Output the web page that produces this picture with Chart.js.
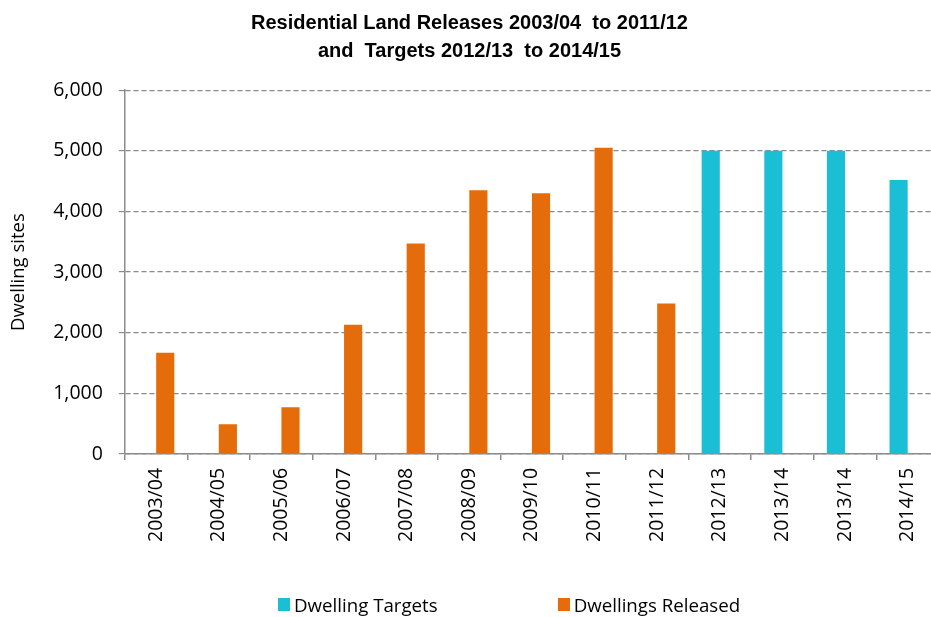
<!DOCTYPE html>
<html>
<head>
<meta charset="utf-8">
<script src="https://cdn.jsdelivr.net/npm/chart.js@4"></script>
<style>
  html, body { margin: 0; padding: 0; background: #fff; overflow: hidden; }
  #contenedor { position: relative; width: 931px; height: 617px; overflow: hidden; }
  #leyenda {
    position: absolute; left: 278px; top: 592px;
    display: flex; gap: 120px; align-items: center;
    font-family: 'Open Sans', sans-serif; font-size: 18.7px; color: #000;
  }
  #leyenda .item { display: flex; align-items: center; gap: 4px; white-space: nowrap; }
  #leyenda .caja { width: 12px; height: 13px; display: inline-block; }
</style>
</head>
<body>
<div id="contenedor">
  <canvas id="grafico" width="945" height="617"></canvas>
  <div id="leyenda"></div>
</div>
<script>
const periodos = ['2003/04', '2004/05', '2005/06', '2006/07', '2007/08', '2008/09', '2009/10',
    '2010/11', '2011/12', '2012/13', '2013/14', '2013/14', '2014/15'];
const objetivos = [null, null, null, null, null, null, null, null, null, 5000, 5000, 5000, 4520];
const liberados = [1670, 490, 770, 2130, 3470, 4350, 4300, 5050, 2480, null, null, null, null];
const ticksY = [0, 1000, 2000, 3000, 4000, 5000, 6000];

const ctx = document.getElementById('grafico').getContext('2d');

const grafico = new Chart(ctx, {
    type: 'bar',
    data: {
        labels: periodos,
        datasets: [{
            label: 'Dwelling Targets',
            data: objetivos,
            backgroundColor: '#1BBFD5'
        }, {
            label: 'Dwellings Released',
            data: liberados,
            backgroundColor: '#E46C0A'
        }]
    },
    options: {
        responsive: false,
        animation: false,
        categoryPercentage: 0.58,
        barPercentage: 1.0,
        layout: { padding: { left: 0, right: 6, top: 0, bottom: 67 } },
        plugins: {
            title: {
                display: true,
                text: ['Residential Land Releases 2003/04  to 2011/12', 'and  Targets 2012/13  to 2014/15'],
                color: '#000',
                font: { family: 'Liberation Sans', size: 20, weight: 'bold', lineHeight: 1.43 },
                padding: { top: 9, bottom: 24 }
            },
            legend: { display: false },
            tooltip: { enabled: false }
        },
        scales: {
            x: {
                grid: {
                    display: true,
                    drawOnChartArea: false,
                    drawTicks: true,
                    tickLength: 6,
                    color: '#8c8c8c',
                    lineWidth: 1.5
                },
                border: { color: '#8c8c8c', width: 1.5 },
                ticks: {
                    color: '#000',
                    minRotation: 90,
                    maxRotation: 90,
                    padding: 8,
                    font: { family: 'Open Sans', size: 19.5 }
                }
            },
            y: {
                min: 0,
                max: 6000,
                afterBuildTicks: axis => { axis.ticks = ticksY.map(v => ({ value: v })); },
                title: {
                    display: true,
                    text: 'Dwelling sites',
                    color: '#000',
                    font: { family: 'Open Sans', size: 18.5 },
                    padding: { top: 8, bottom: 7 }
                },
                grid: {
                    color: '#888',
                    lineWidth: 1.2,
                    tickLength: 6,
                    tickColor: '#8c8c8c',
                    tickBorderDash: []
                },
                border: { color: '#8c8c8c', width: 1.5, dash: [5, 3] },
                ticks: {
                    color: '#000',
                    padding: 16,
                    font: { family: 'Open Sans', size: 19.5 },
                    callback: v => v.toLocaleString('en-US')
                }
            }
        }
    }
});

// leyenda en HTML para poder separar los elementos como en el original
const leyenda = document.getElementById('leyenda');
leyenda.innerHTML = grafico.data.datasets.map(ds => `
    <span class="item"><span class="caja" style="background:${ds.backgroundColor}"></span>${ds.label}</span>
`).join('');
</script>
</body>
</html>
